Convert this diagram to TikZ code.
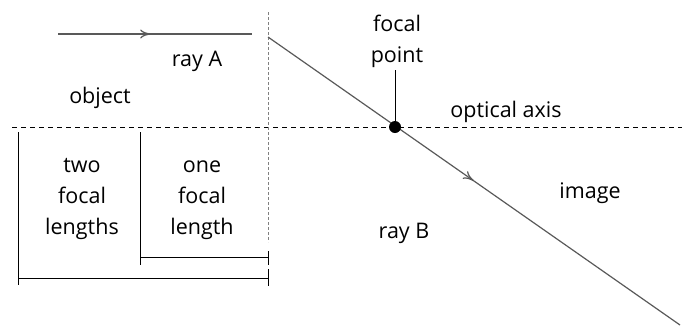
\documentclass[tikz,border=0pt]{standalone}
\usepackage{fontspec}
\setmainfont{Open Sans}
\usetikzlibrary{arrows.meta,positioning,decorations.markings}

\begin{document}
\begin{tikzpicture}[x=1pt,y=-1pt,
  txt/.style={font=\fontsize{21.5}{31}\selectfont,inner sep=0pt,anchor=base,align=center},
  ray/.style={draw=black!65,line width=1.2pt},
  midarrow/.style={postaction={decorate},decoration={markings,
      mark=at position #1 with {\arrow{To[length=11pt,width=9pt,open]}}}},
  axis/.style={draw=black,line width=0.9pt,dash pattern=on 5pt off 4pt},
  lens/.style={draw=gray,line width=0.6pt,densely dashed},
  bar/.style={draw=black,line width=1pt}]

  \useasboundingbox (0,0) rectangle (682,333);

  % optical axis and lens
  \coordinate (axL) at (12,127);
  \coordinate (axR) at (682,127);
  \draw[axis] (axL) -- (axR);
  \coordinate (lensT) at (268,12);
  \coordinate (lensB) at (268,242);
  \draw[lens] (lensT) -- (lensB);

  % rays
  \coordinate (rayA0) at (58,34);
  \coordinate (rayA1) at (252,34);
  \draw[ray,midarrow=0.48] (rayA0) -- (rayA1);
  \coordinate (rayB0) at (268,37);
  \coordinate (rayB1) at (680,325);
  \draw[ray,midarrow=0.5] (rayB0) -- (rayB1);

  % focal point
  \node[circle,fill=black,minimum size=12pt,inner sep=0pt] (fp) at (395,127) {};
  \node[txt] (fptxt) at (397,62) {focal\\point};
  \coordinate (stem) at (395,70);
  \draw[bar] (stem) -- (fp);

  % distances
  \coordinate (l0) at (18,132);
  \coordinate (l1) at (18,285);
  \coordinate (m0) at (140,132);
  \coordinate (m1) at (140,265);
  \coordinate (s0) at (140,257);
  \coordinate (s1) at (268,257);
  \coordinate (t0) at (268,251);
  \coordinate (t1) at (268,265);
  \coordinate (b0) at (18,278);
  \coordinate (b1) at (268,278);
  \coordinate (u0) at (268,269);
  \coordinate (u1) at (268,286);
  \draw[bar] (l0) -- (l1);
  \draw[bar] (m0) -- (m1);
  \draw[bar] (s0) -- (s1);
  \draw[bar] (t0) -- (t1);
  \draw[bar] (b0) -- (b1);
  \draw[bar] (u0) -- (u1);

  % labels
  \node[txt] (rayA) at (197,66) {ray A};
  \node[txt] (obj) at (100,103) {object};
  \node[txt] (axtxt) at (506,117) {optical axis};
  \node[txt] (two) at (82,234) {two\\focal\\lengths};
  \node[txt] (one) at (202,234) {one\\focal\\length};
  \node[txt] (rayB) at (404,238) {ray B};
  \node[txt] (img) at (590,198) {image};
\end{tikzpicture}
\end{document}
